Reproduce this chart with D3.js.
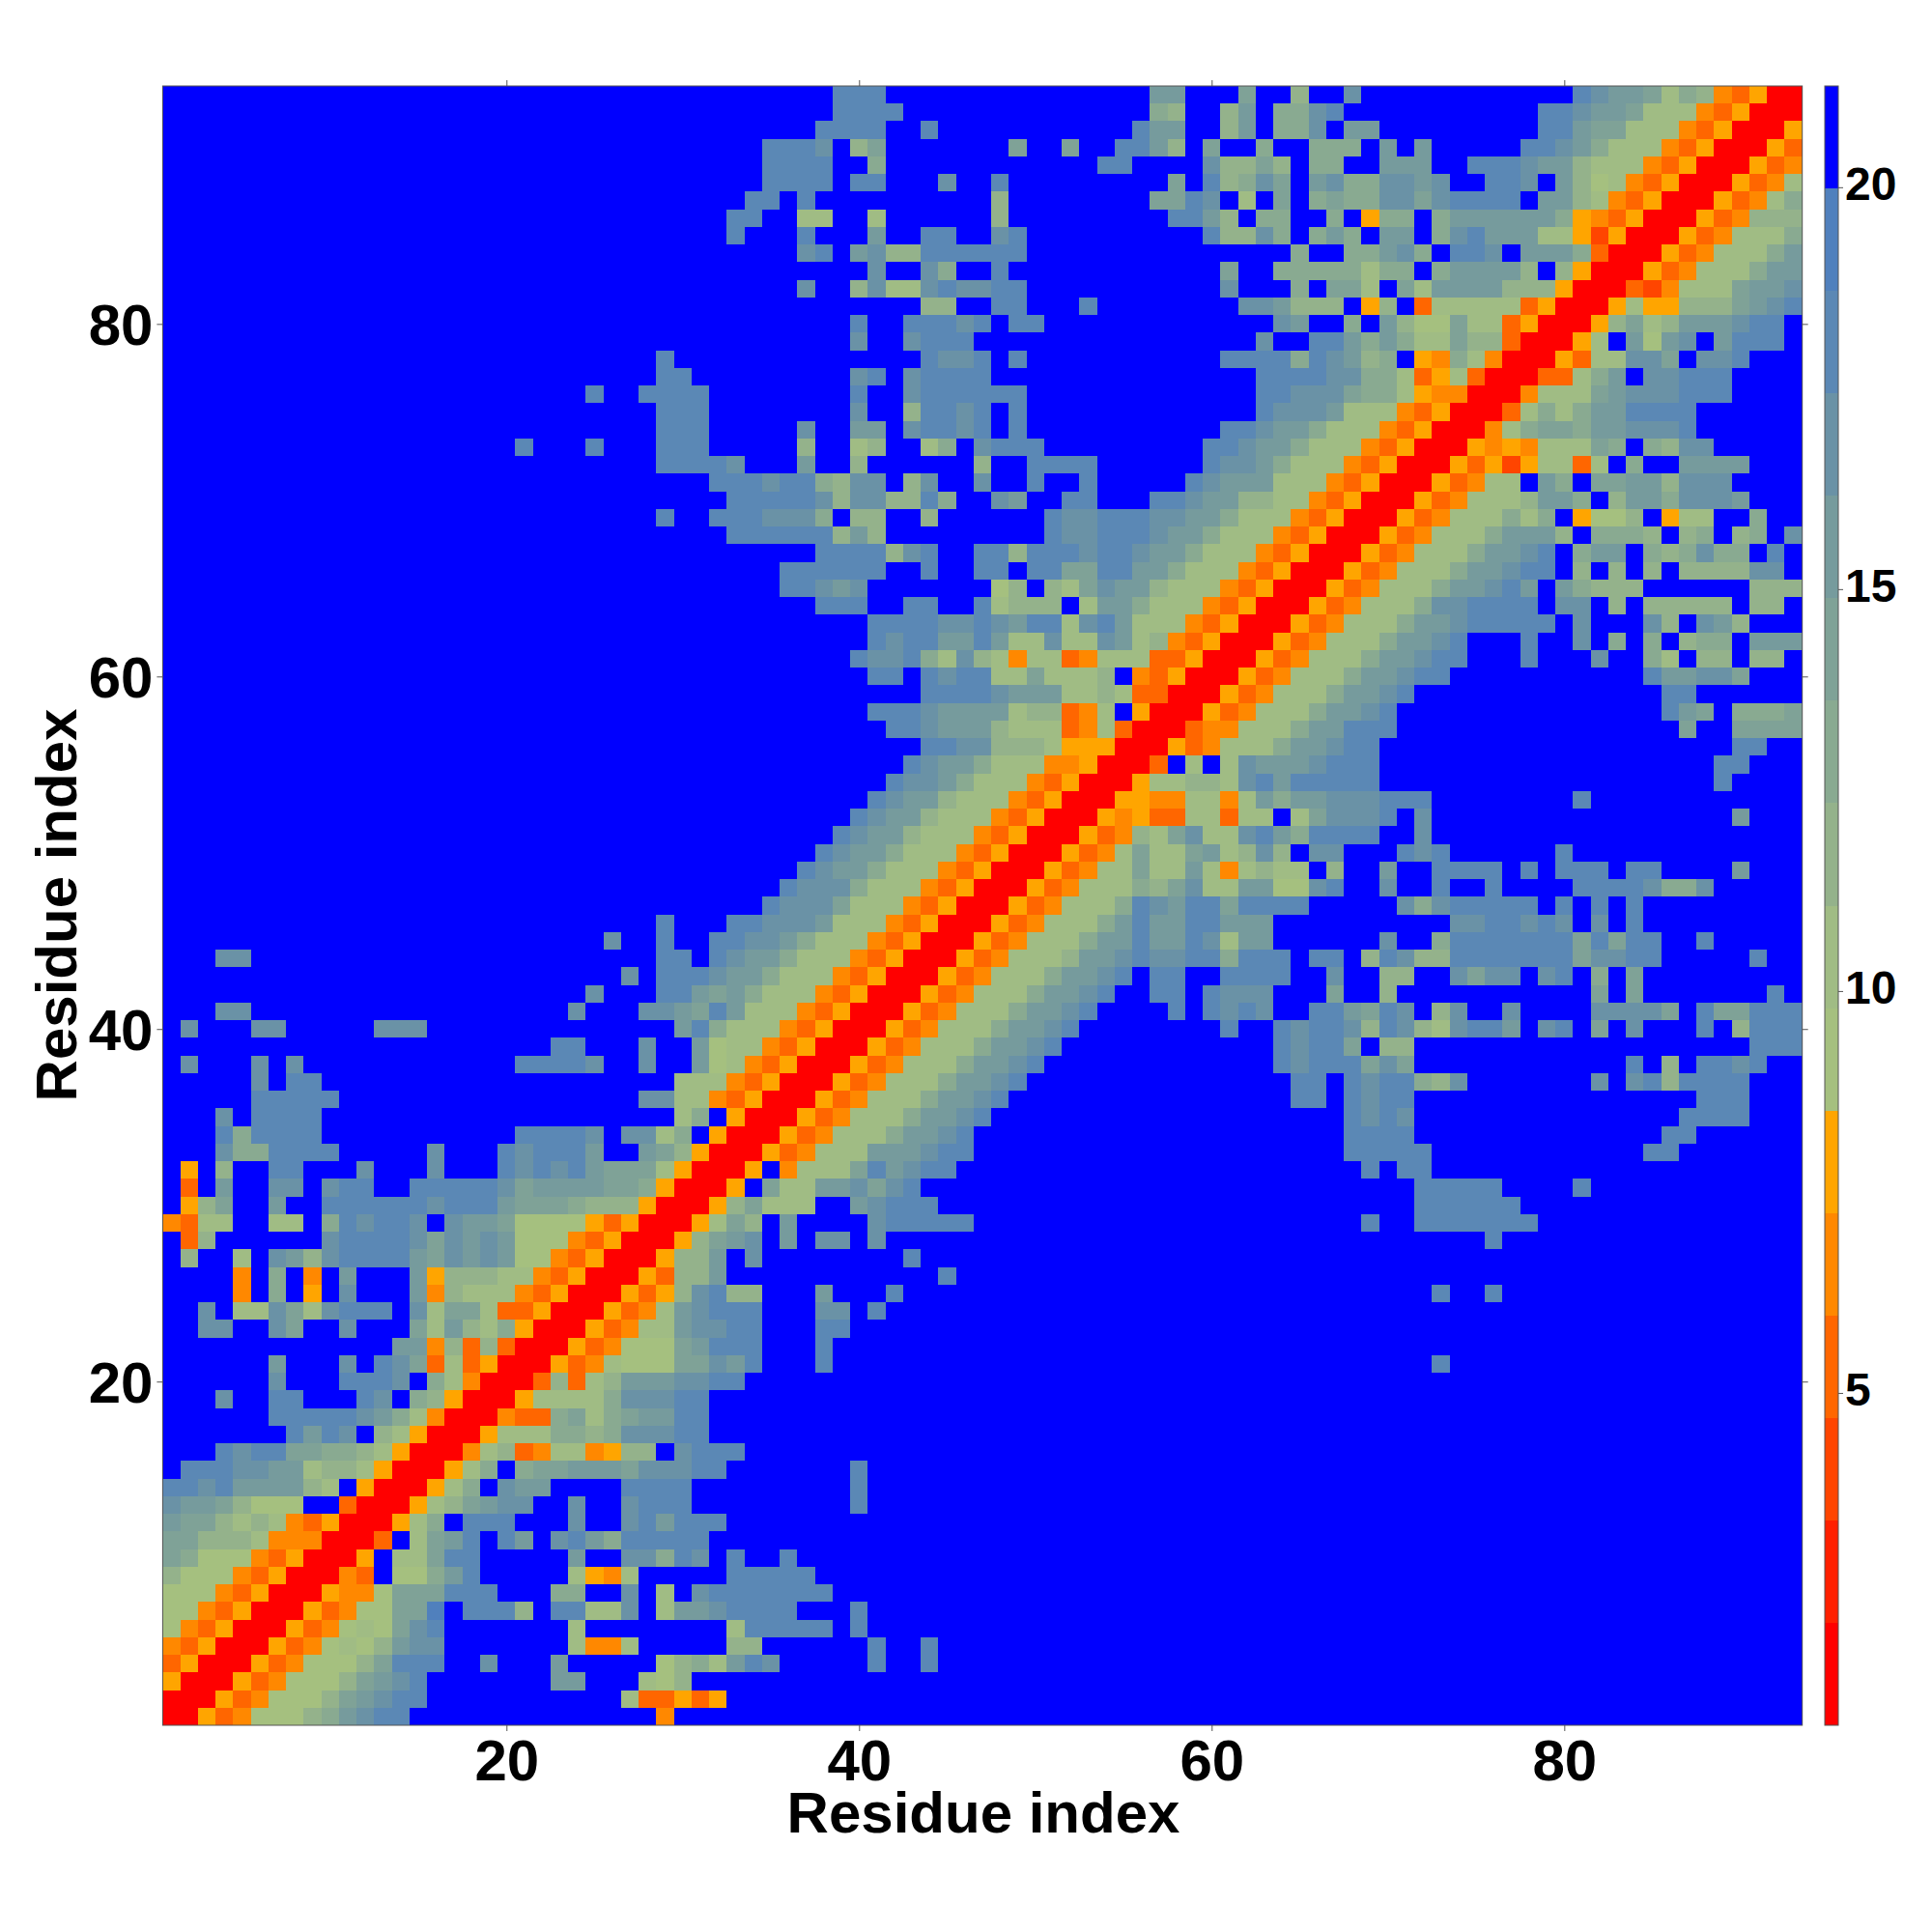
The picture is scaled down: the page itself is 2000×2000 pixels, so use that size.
<!DOCTYPE html>
<html>
<head>
<meta charset="utf-8">
<script src="https://d3js.org/d3.v7.min.js"></script>
<style>
html,body{margin:0;padding:0;background:#fff}
text{font-family:"Liberation Sans",Arial,sans-serif;font-weight:700;fill:#000}
</style>
</head>
<body>
<svg id="chart" width="2000" height="2000"></svg>
<script>
// Colour bands, low distance to high distance (last = beyond cut-off)
const bandColors = ["#ff0000","#ff2000","#ff4500","#ff6600","#ff8800","#ffa500",
  "#a5c07f","#a0bc84","#94b28b","#89aa91","#7fa297","#769b9d","#6a92a6","#5b88b5","#5080bd","#0000ff"];
const bandKeys = "0123456789abcde.";
const axisTicks = [20,40,60,80];
const barTicks = [5,10,15,20];
const axisTitle = "Residue index";
const residueCount = 93;

// One string per residue row, bottom to top. "start:bands" runs; anything not listed is the last band.
const rows01to25 = [
"1:0053466689bcdd 29:4",
"1:0005346668abcdd 27:733535",
"1:50005346668abcd 23:bb 28:768",
"1:350005346668addd 19:c 23:b 29:6897bdc 41:d 44:d",
"1:4350005346768bcc 24:7447 33:88 41:d 44:d",
"1:6435000534676acd 24:7 33:7ddddd 40:d",
"1:6643500053466aae 18:ddd 21:8 23:dd77c 29:7bbcdddd 40:d",
"1:6664350005446aaaddd 23:99 27:c 29:7 31:cddddddd",
"1:866643500043.669bd 24:7547 33:ddddd",
"1:a96664350005.77add 24:b 27:cc9dc.d 36:d",
"1:aa88874440003.7abd.db.cdb9ddddd",
"1:baa8787435000579.ddd...c..cdbddd",
"1:cbba8666..3000578abcc..c..cddd 40:d",
"1:ddcdbbbb87.5000579.cbb....dddd 40:d",
"2:dddccbb78875000579.9aabbbacccdd 40:d",
"4:dcddaa9987500047834774588.cddd",
"8:dbdc.87500057779989cccdd",
"7:dddddcb9740004339a79abbdd",
"4:c 7:dd 12:dc.985000577779cccdd",
"7:c 11:dddc.97400038378bbbccdd",
"7:b 11:c 13:dca37350005347666aacbd 38:d 73:d",
"14:bb48383000534666abddd 38:d",
"3:cc 7:ca 11:c 15:a7b879500053477bccdd 38:dd",
"3:c 5:77ca7cddd 15:c7aa73350005347bcddd 38:cc 41:d",
"5:4 7:9 9:5 11:c 15:b487774350005358cd88 38:b 42:d 73:d 76:d"
];
const rows26to50 = [
"5:4 7:9 9:4 11:b 15:b5888774350005388b 45:d",
"2:8 5:7 7:cb8cddddbacbcb66435000588b 34:c 43:d",
"2:38 10:cddddcacbcb66643500058abc 36:b 38:cc 41:c 76:d",
"1:4377 7:77 10:9dcddc.cbba666653500057a8 36:b 41:cddddd 69:d 72:ddddddd",
"2:58a 7:b 10:ddddddcdddbaaa9888500058a777 40:bcddd 72:dddddd",
"2:3 4:b 7:cc 10:cdd 15:dddddcabbbbaa950005.a77bbcacd 72:ddddd 81:d",
"2:5 4:8 7:dd 12:c 16:c 20:dcdcdbaaa750005.4777adbcdd 69:d 71:dd",
"4:c99dddd 16:c 20:dcdddb 28:ba85000534777bbbcdd 68:ddddd 85:dd",
"4:d9dddd 21:ddddc 27:cc79.50005347779bbcd 68:dddd 86:dd",
"4:c 6:dddd 30:79.50005347779bbcd 68:dcdc 87:dddd",
"6:ddddd 28:cc774350005347779bbcd 65:dd 68:dcdd 88:ddd",
"6:c 8:dd 30:7774350005347779bbcd 65:dd 68:dcdd98c 82:c 84:cd8dddd",
"2:c 6:c 8:c 21:ddddc 28:c 31:b674350005347779bbcd 64:dcdddaca 84:d 86:8 88:ddcd",
"23:dd 28:c 31:b6774350005347779bbcd 64:dcdda.88 91:ddd",
"2:c 6:cc 13:ccc 30:bd97774350005347779bbcd 61:d 64:dcddc8dc87cddb 79:cd 82:a 84:c 88:d 90:8ddd",
"4:cc 24:c 28:ccbadb7774350005347779bbcd 58:d 60:dcdc 66:ddbadc 73:8c 77:c 82:cccca 88:daaddd",
"25:c 29:ddbab97774350005347779bbcd 57:dd 60:dccc 67:a 70:8 82:a 84:a 92:d",
"27:c 29:dddcbb97774350005347779bbcd 57:dd 61:dd 63:dd 67:c 70:88 74:cacc 79:cd 82:9 84:a",
"4:cc 29:dd 32:dcbb97774350005347778bbcdccdd9ddd 66:dd 69:8dc88dddddddaccdd 91:d",
"26:c 29:d 32:ddccb97774350005347779bbdbbdc7bb 70:c 73:9dddddddadadd 88:d",
"29:d 33:ddcccb7774350005347779bdbbddbbb 74:ccddcdc 82:c 84:d",
"35:dccca7774350005347779dcbddadddd 71:c9cddddd 80:d 82:d 84:d",
"36:dccc977743500053477798ac77bb66cd 70:c 73:d 76:d 81:ddddc99c",
"37:dcbb977743500053477a77b747877 67:8 70:b 73:dddd 78:d 80:ddd 84:dd 90:b",
"38:dcbb97774350005347a77ab78c8 66:cc 71:dcd 80:d"
];
const rows51to75 = [
"39:dcbb877743500053487ac77cdb9dddd 72:c",
"40:dcbb87774350005453377377.7acccd 72:c 90:b",
"41:dcbb877743500055447747b9bbcccddd 81:d",
"42:dccb9777435000577887cdbddddd 89:d",
"43:dcbb97774450003.7.7cbbbcddd 89:dd",
"44:ddcc88875550005347779bbcdd 90:dd",
"42:ddcbbb877734730003447779bbddd 87:a 90:aaaa",
"41:dddcbbbb788347.50005347779bbcd 86:dba 90:999a",
"44:ddddcbbb7787330005347779bbcd 86:dd",
"41:dd.dcdd77a7778.4350005347779bbcdd 85:dbbcca",
"40:dccd97c87477347773350005347779bbcdd 78:d 82:c 85:97.88.88",
"41:dcddbbdb77c77cb784350005347779bbcd 78:d 81:c 83:9 85:9.899.bbb",
"41:ddddccdcbdd7cdb7774350005347779bbcddddd 81:c 85:c8.cb8",
"38:ddd 43:dd 47:d7888.7bb97774350005347779ccdddd 80:cc 83:8 85:88888 91:88",
"36:ddcbc 48:68.87acbb87774350005347779bbcdb 80:b9888 91:888",
"36:dddddd 44:d 47:dd.ddaaddbb97774350005347779bbcdd.8.8.8.8888cc",
"38:dddd8cd 47:dd8dddcddcbb97774350005347779bbcd.9bb.989c99.d",
"33:dddddd8b8 51:dccdddcbb97774350005347779bbb8.9998.89.89.c",
"29:d 32:dddccc9.88 44:8 51:dccdddccbb9777435000534777979.5668.577..9",
"33:dddddc8cc88d9 48:cb 52:dd 57:ddcbb88774350005347778bb9.8bb9cccb",
"32:dddcdd98cc.8c 47:c 50:d 53:d 59:dcbbb77743500053477.b9.aabb8ccc",
"29:ddddc 37:b 40:8 47:8 50:dddd 60:dccb9777435000535257737.9..bbbb",
"21:d 25:d 29:ddd 37:8 40:78 44:79 47:cddd 60:ddcbb97774350005454777a9.98cc",
"29:ddd 37:c 40:bb 43:cddcd 49:d 61:ddcbb9777435000479aa9bbcccd",
"29:ddd 40:c 43:8ddcd.d 63:dcccb77743500037979bbdddd"
];
const rows76to93 = [
"25:d 28:dddd 40:d 43:cdddddd 63:ddccca9975440004777abcccddd",
"29:dd 40:cd 43:cdddd 63:ddddcc99735730003379b.ccddd",
"29:d 44:dccd 49:d 61:dddd9dcb89.549740005377cca.ccd",
"40:c 43:cddd 63:c 66:ddb9b977a88300057.b6bc.bddd",
"40:d 43:dddcd 49:dd 64:cb 68:9 70:b866a773500058a78bbbcdd",
"44:88 48:dd 53:d 62:ccb888.58.377777350005755888abcd",
"37:c 40:8c77cdccdd 61:c 65:9 67:aa7.a7bbbb8885000324777abbc",
"41:c 44:c9 48:d 61:a 64:99999799.9bbbb8.850005347779bb",
"37:cd 40:bc88dddddd 65:9 68:99bc9.ddc.bbb930005347779b",
"33:d 37:d 41:b 44:dd 48:cd 60:d88c9.9b9.bb.9cdbbb775250005347779",
"33:dd 37:77 41:7 48:8 58:ddb8.99..9.599.9bbbbbb95435000534888",
"34:dd 37:d 48:8 57:aadc.7.a.9a99ccacdddd.bb8743500053479",
"35:dddd 40:dd 45:c 48:d 58:a 60:d89ca.bc99ccbc..ddc.b8674350005347",
"35:dddd 41:9 54:dd 60:c88a8.99..bbb..dddcbb8777435000534",
"35:dddc 40:8a 49:a 52:a 55:ddb8 60:a 63:9 66:999.b.b 78:ddcb977743500053",
"38:dddd 44:d 56:dbb 61:8b 64:99c.bb 79:ddbaa7774350005",
"39:dddd 57:98 61:8b 64:99cd 79:ddcbba777435000",
"39:ddd 57:bb 62:a 65:8 68:c 81:dcbba79843500"
];

const allRows = [...rows01to25, ...rows26to50, ...rows51to75, ...rows76to93];
const lastBand = bandKeys.length - 1;
const cells = [];
allRows.forEach((row, r) => {
  const line = new Array(residueCount).fill(lastBand);
  row.split(" ").forEach(run => {
    const [start, bands] = run.split(":");
    [...bands].forEach((k, i) => { line[+start - 1 + i] = bandKeys.indexOf(k); });
  });
  line.forEach((band, c) => cells.push({x: c + 1, y: r + 1, band}));
});

const plot = {left: 168.4, right: 1865.7, top: 89, bottom: 1786};
const x = d3.scaleLinear().domain([0.5, residueCount + 0.5]).range([plot.left, plot.right]);
const y = d3.scaleLinear().domain([0.5, residueCount + 0.5]).range([plot.bottom, plot.top]);
const color = d3.scaleOrdinal().domain(d3.range(bandColors.length)).range(bandColors);

const svg = d3.select("#chart");
svg.append("rect").attr("width", 2000).attr("height", 2000).attr("fill", "#fff");

svg.append("g").attr("shape-rendering", "crispEdges").selectAll("rect").data(cells).join("rect")
  .attr("x", d => Math.round(x(d.x - 0.5)))
  .attr("width", d => Math.round(x(d.x + 0.5)) - Math.round(x(d.x - 0.5)))
  .attr("y", d => Math.round(y(d.y + 0.5)))
  .attr("height", d => Math.round(y(d.y - 0.5)) - Math.round(y(d.y + 0.5)))
  .attr("fill", d => color(d.band));

svg.append("rect").attr("x", plot.left).attr("y", plot.top)
  .attr("width", plot.right - plot.left).attr("height", plot.bottom - plot.top)
  .attr("fill", "none").attr("stroke", "#555").attr("stroke-width", 1);

function styleAxis(g, labelled, size, dy) {
  g.select(".domain").remove();
  g.selectAll(".tick line").attr("stroke", "#555").attr("stroke-width", 1);
  g.selectAll(".tick text").attr("font-size", size)
    .style("font-family", '"Liberation Sans",Arial,sans-serif').style("font-weight", 700)
    .attr("transform", `translate(0,${dy})`);
  if (!labelled) g.selectAll(".tick text").remove();
}
svg.append("g").attr("transform", `translate(0,${plot.bottom})`)
  .call(d3.axisBottom(x).tickValues(axisTicks).tickSize(6).tickPadding(8))
  .call(g => styleAxis(g, true, 60, 0));
svg.append("g").attr("transform", `translate(0,${plot.top})`)
  .call(d3.axisTop(x).tickValues(axisTicks).tickSize(6))
  .call(g => styleAxis(g, false, 60, 0));
svg.append("g").attr("transform", `translate(${plot.left},0)`)
  .call(d3.axisLeft(y).tickValues(axisTicks).tickSize(6).tickPadding(4))
  .call(g => styleAxis(g, true, 60, 2));
svg.append("g").attr("transform", `translate(${plot.right},0)`)
  .call(d3.axisRight(y).tickValues(axisTicks).tickSize(6))
  .call(g => styleAxis(g, false, 60, 0));

svg.append("text").attr("x", 1018).attr("y", 1897).attr("text-anchor", "middle")
  .attr("font-size", 60).text(axisTitle);
svg.append("text").attr("transform", "translate(79,937) rotate(-90)").attr("text-anchor", "middle")
  .attr("font-size", 60).text(axisTitle);

// Colour bar
const barX = 1889, barW = 14;
const barScale = d3.scaleLinear().domain([0.865, 21.26]).range([plot.bottom, plot.top]);
const bandEdge = d3.scaleLinear().domain([0, bandColors.length]).range(barScale.domain());
svg.append("g").attr("shape-rendering", "crispEdges").selectAll("rect").data(bandColors).join("rect")
  .attr("x", barX).attr("width", barW)
  .attr("y", (d, i) => Math.round(barScale(bandEdge(i + 1))))
  .attr("height", (d, i) => Math.round(barScale(bandEdge(i))) - Math.round(barScale(bandEdge(i + 1))))
  .attr("fill", d => d);
svg.append("rect").attr("x", barX).attr("y", plot.top).attr("width", barW)
  .attr("height", plot.bottom - plot.top).attr("fill", "none").attr("stroke", "#555").attr("stroke-width", 1);
svg.append("g").attr("transform", `translate(${barX + barW},0)`)
  .call(d3.axisRight(barScale).tickValues(barTicks).tickSize(5).tickPadding(2))
  .call(g => styleAxis(g, true, 48, -3));
</script>
</body>
</html>
